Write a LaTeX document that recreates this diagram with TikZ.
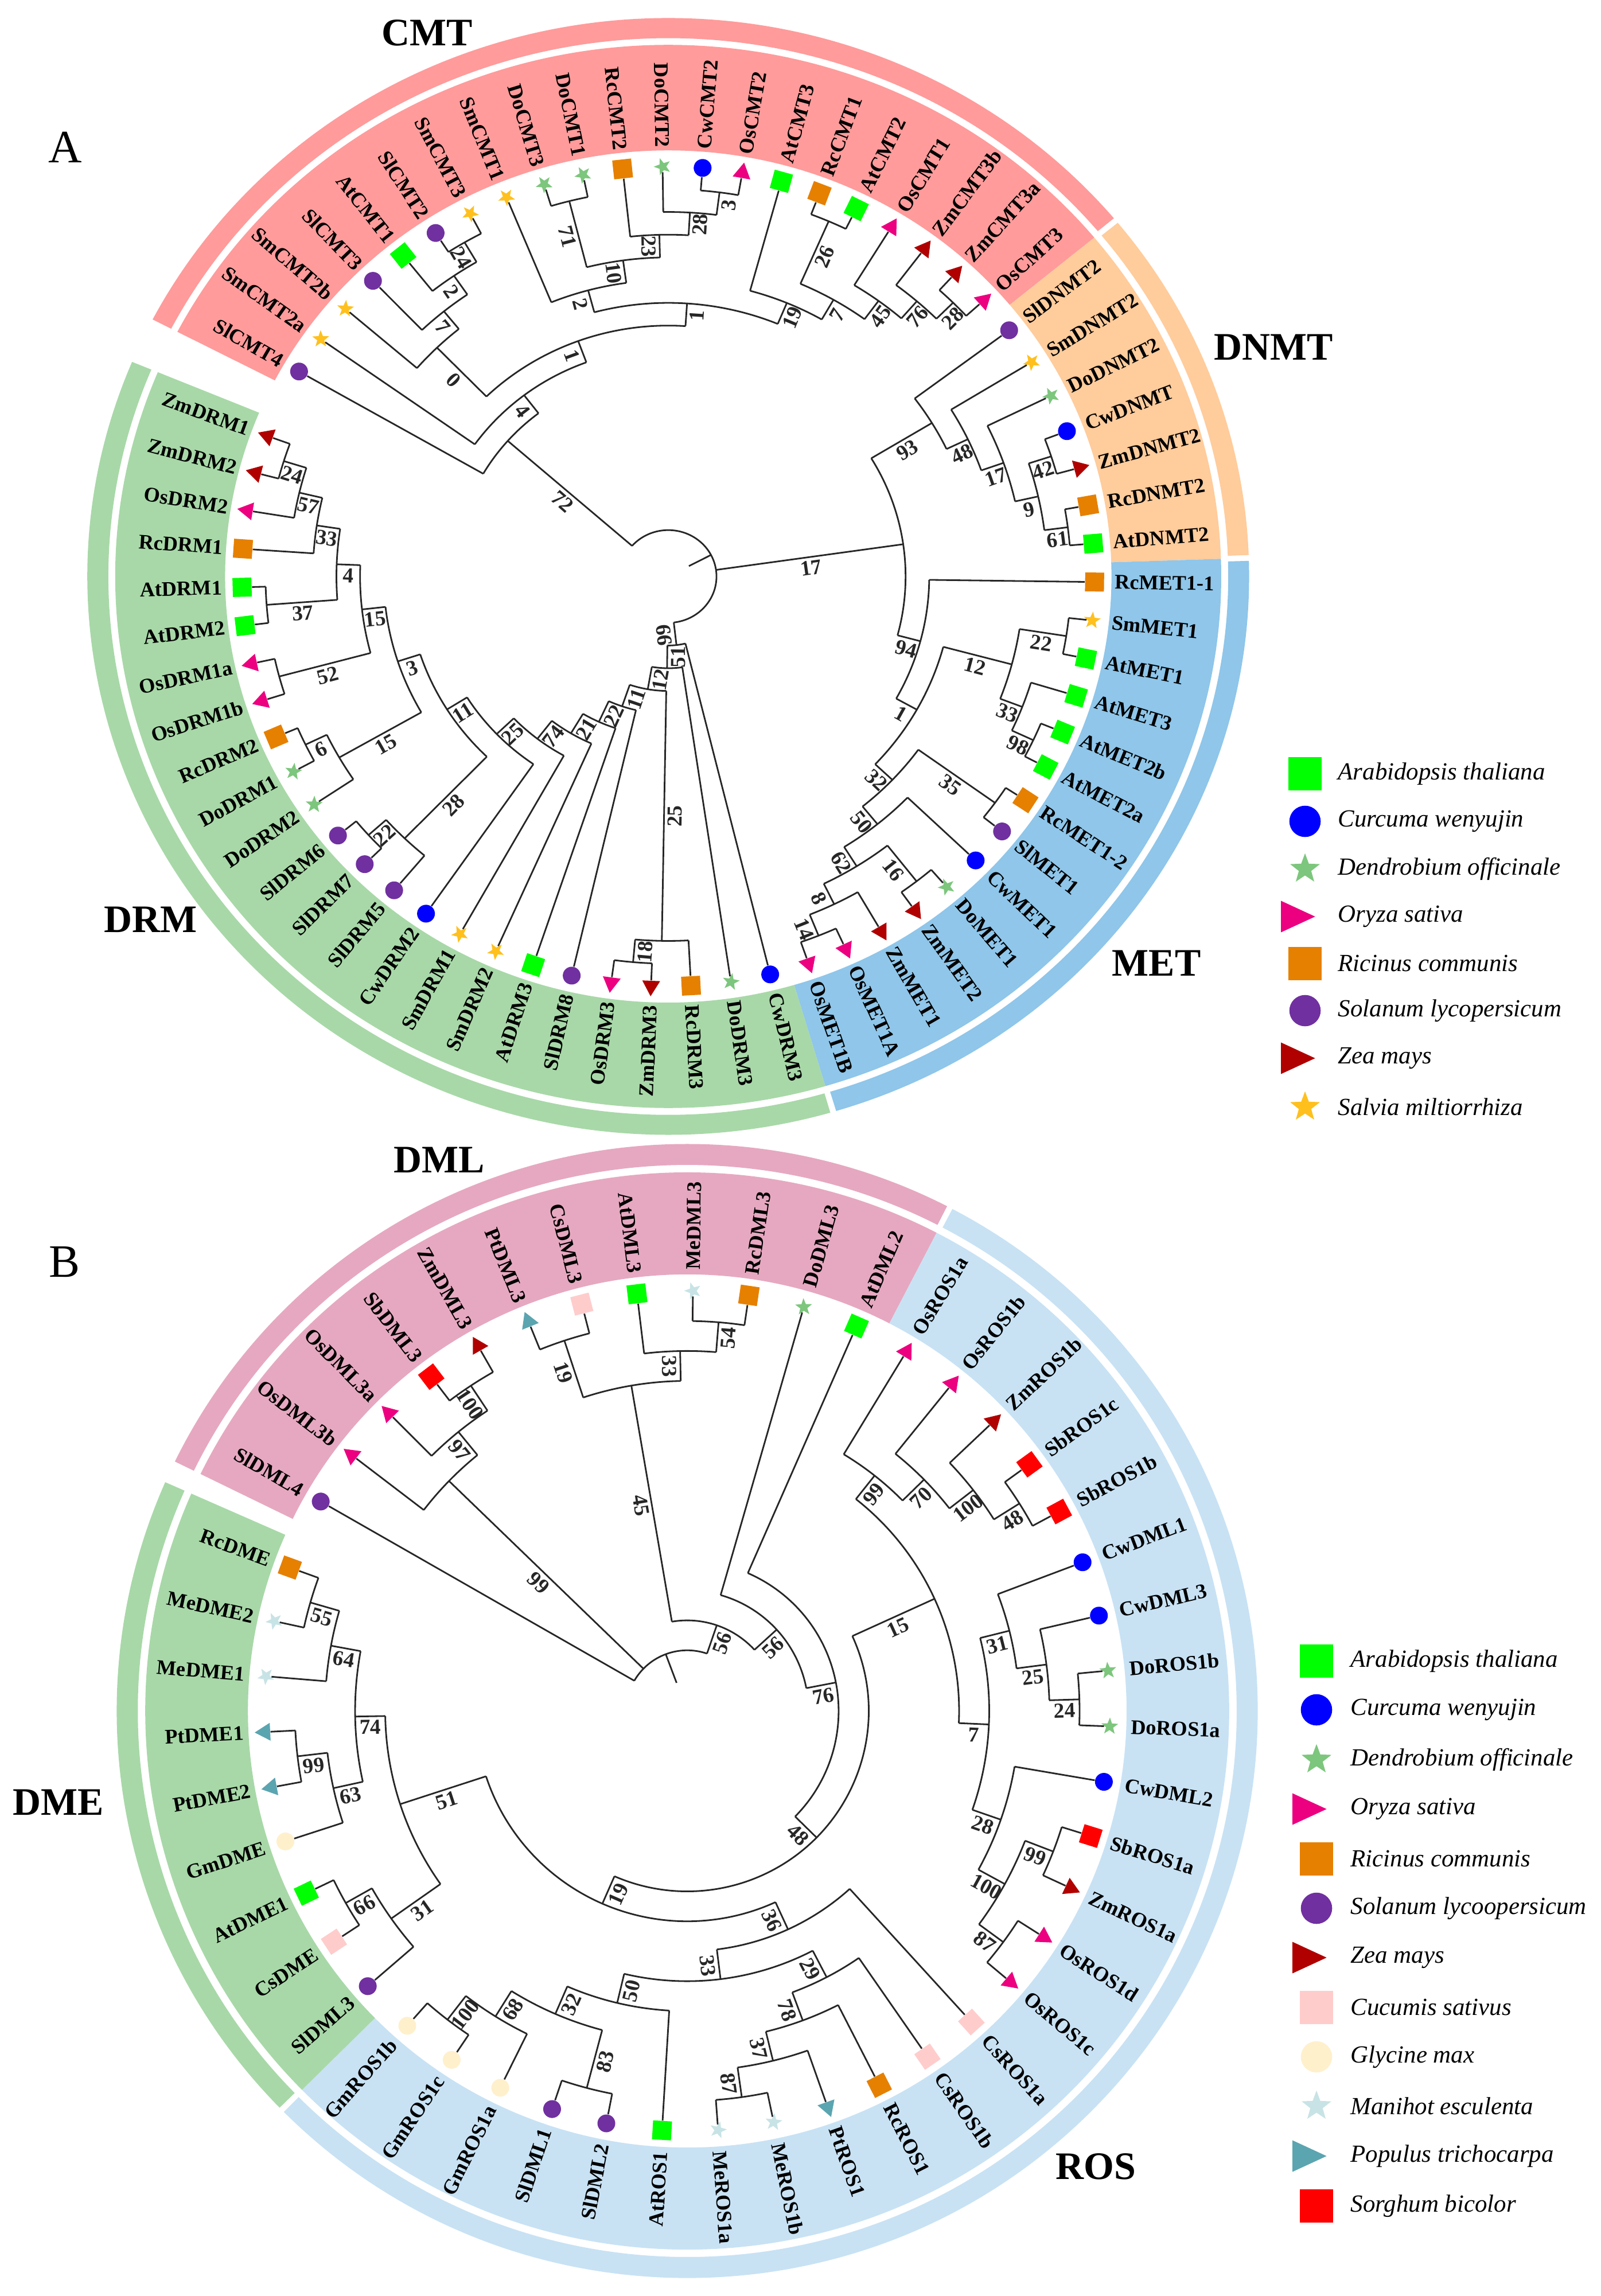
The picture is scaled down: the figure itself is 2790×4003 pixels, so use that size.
\documentclass[tikz,border=0pt]{standalone}
\usepackage{fontspec}
\setmainfont{Liberation Serif}
\usetikzlibrary{shapes.geometric}
\definecolor{cmtcol}{HTML}{FF9B9B}
\definecolor{dnmtcol}{HTML}{FFCC9C}
\definecolor{metcol}{HTML}{8FC6EA}
\definecolor{drmcol}{HTML}{A8D8A8}
\definecolor{dmlcol}{HTML}{E6A8C0}
\definecolor{roscol}{HTML}{C8E2F4}
\definecolor{cAt}{HTML}{00FF00}
\definecolor{cCw}{HTML}{0000FF}
\definecolor{cDo}{HTML}{7DC67D}
\definecolor{cOs}{HTML}{EC007F}
\definecolor{cRc}{HTML}{E68000}
\definecolor{cSl}{HTML}{7030A0}
\definecolor{cZm}{HTML}{B00000}
\definecolor{cSm}{HTML}{FFC01E}
\definecolor{cCs}{HTML}{FFCCCC}
\definecolor{cGm}{HTML}{FFF0CC}
\definecolor{cMe}{HTML}{C8E3E5}
\definecolor{cPt}{HTML}{5BA5B0}
\definecolor{cSb}{HTML}{FF0000}
\tikzset{
  branch/.style={line width=.8pt,black!85},
  bootlab/.style={anchor=north,inner sep=1.5pt,font=\fontsize{10.6}{12}\selectfont\bfseries},
  genelab/.style={inner sep=0pt,font=\fontsize{10.3}{12}\selectfont\bfseries},
  grouplab/.style={inner sep=0pt,font=\fontsize{19.3}{22}\selectfont\bfseries},
  panellab/.style={inner sep=0pt,font=\fontsize{23}{26}\selectfont},
  legtext/.style={anchor=west,inner sep=0pt,font=\fontsize{12.2}{14}\selectfont\itshape},
  mksq/.style={rectangle,minimum size=.33cm,inner sep=0pt,fill=#1},
  mkdot/.style={circle,minimum size=.31cm,inner sep=0pt,fill=#1},
  mkstar/.style={star,star points=5,star point ratio=2.4,minimum size=.31cm,inner sep=0pt,fill=#1},
  mktri/.style={regular polygon,regular polygon sides=3,shape border rotate=-90,minimum size=.36cm,inner sep=0pt,fill=#1},
  lgtri/.style={xscale=1.25,xshift=-.1cm},
  mkAt/.style={mksq=cAt}, mkCw/.style={mkdot=cCw}, mkDo/.style={mkstar=cDo},
  mkOs/.style={mktri=cOs}, mkRc/.style={mksq=cRc}, mkSl/.style={mkdot=cSl},
  mkZm/.style={mktri=cZm}, mkSm/.style={mkstar=cSm}, mkCs/.style={mksq=cCs},
  mkGm/.style={mkdot=cGm}, mkMe/.style={mkstar=cMe}, mkPt/.style={mktri=cPt},
  mkSb/.style={mksq=cSb}
}
% ring piece: colour, from, to, inner, outer
\newcommand{\band}[5]{\fill[#1] (#2:#4) arc[start angle=#2,end angle=#3,radius=#4]
  -- (#3:#5) arc[start angle=#3,end angle=#2,radius=#5] -- cycle;}
% tip: name, species, angle, marker radius, text radius
\newcommand{\leaf}[5]{%
  \pgfmathsetmacro\lang{#3}%
  \pgfmathsetmacro\lrot{cos(\lang)>=0 ? \lang : \lang+180}%
  \pgfmathparse{cos(\lang)>=0 ? "west" : "east"}\edef\lanch{\pgfmathresult}%
  \expandafter\xdef\csname ang@#1\endcsname{\lang}%
  \node[mk#2,rotate=\lang] (#1) at (\lang:#4) {};
  \node[genelab,rotate=\lrot,anchor=\lanch] (#1-t) at (\lang:#5) {#1};
}
% stem of a child up to the arc of its parent
\newcommand{\stemto}[2]{%
  \edef\sang{\csname ang@#1\endcsname}%
  \pgfmathsetmacro\srot{cos(\sang)>=0 ? \sang : \sang+180}%
  \ifcsname lab@#1\endcsname
    \draw[branch] (#1) -- node[bootlab,rotate=\srot] (l#1) {\csname lab@#1\endcsname} (\sang:#2);
  \else
    \draw[branch] (#1) -- (\sang:#2);
  \fi
}
% inner node: name, first child, second child, level, bootstrap
\newcommand{\clade}[5]{%
  \pgfmathsetmacro\crad{\rzero+\rstep*#4}%
  \edef\cfirst{\csname ang@#2\endcsname}%
  \edef\csecond{\csname ang@#3\endcsname}%
  \pgfmathsetmacro\cmid{(\cfirst+\csecond)/2}%
  \expandafter\xdef\csname ang@#1\endcsname{\cmid}%
  \expandafter\gdef\csname lab@#1\endcsname{#5}%
  \coordinate (#1) at (\cmid:\crad);
  \stemto{#2}{\crad}
  \stemto{#3}{\crad}
  \draw[branch] (\cfirst:\crad) arc[start angle=\cfirst,end angle=\csecond,radius=\crad];
}
\begin{document}
\begin{tikzpicture}[x=.01cm,y=-.01cm]
\useasboundingbox (0,0) rectangle (2790,4003);
% tree A
\begin{scope}[shift={(1165,1005)},x=10.12cm,y=9.73cm]
  \def\rzero{.083}\def\rstep{.0407}
  \band{cmtcol}{152.6}{39.6}{.763}{.952}
  \band{dnmtcol}{39.6}{1.9}{.763}{.952}
  \band{metcol}{1.9}{-73.5}{.763}{.952}
  \band{drmcol}{-73.5}{-202.6}{.763}{.952}
  \band{cmtcol}{152.6}{39.9}{.964}{1}
  \band{dnmtcol}{39.3}{2.2}{.964}{1}
  \band{metcol}{1.6}{-73.2}{.964}{1}
  \band{drmcol}{-73.8}{-202.6}{.964}{1}
  \foreach \g/\s [count=\k from 0] in {SlCMT4/Sl,SmCMT2a/Sm,SmCMT2b/Sm,SlCMT3/Sl,AtCMT1/At,SlCMT2/Sl,SmCMT3/Sm,
    SmCMT1/Sm,DoCMT3/Do,DoCMT1/Do,RcCMT2/Rc,DoCMT2/Do,CwCMT2/Cw,OsCMT2/Os,AtCMT3/At,RcCMT1/Rc,AtCMT2/At,
    OsCMT1/Os,ZmCMT3b/Zm,ZmCMT3a/Zm,OsCMT3/Os,SlDNMT2/Sl,SmDNMT2/Sm,DoDNMT2/Do,CwDNMT/Cw,ZmDNMT2/Zm,RcDNMT2/Rc,
    AtDNMT2/At,RcMET1-1/Rc,SmMET1/Sm,AtMET1/At,AtMET3/At,AtMET2b/At,AtMET2a/At,RcMET1-2/Rc,SlMET1/Sl,CwMET1/Cw,
    DoMET1/Do,ZmMET2/Zm,ZmMET1/Zm,OsMET1A/Os,OsMET1B/Os,CwDRM3/Cw,DoDRM3/Do,RcDRM3/Rc,ZmDRM3/Zm,OsDRM3/Os,
    SlDRM8/Sl,AtDRM3/At,SmDRM2/Sm,SmDRM1/Sm,CwDRM2/Cw,SlDRM5/Sl,SlDRM7/Sl,SlDRM6/Sl,DoDRM2/Do,DoDRM1/Do,
    RcDRM2/Rc,OsDRM1b/Os,OsDRM1a/Os,AtDRM2/At,AtDRM1/At,RcDRM1/Rc,OsDRM2/Os,ZmDRM2/Zm,ZmDRM1/Zm}
    {\leaf{\g}{\s}{150-5.385*\k}{.734}{.768}}
  % CMT
  \clade{a24a}{SlCMT2}{SmCMT3}{15}{24}
  \clade{a2a}{AtCMT1}{a24a}{14}{2}
  \clade{a7a}{SlCMT3}{a2a}{13}{7}
  \clade{a0}{SmCMT2b}{a7a}{12}{0}
  \clade{a71}{DoCMT3}{DoCMT1}{15}{71}
  \clade{a3a}{CwCMT2}{OsCMT2}{15}{3}
  \clade{a28a}{DoCMT2}{a3a}{14}{28}
  \clade{a23}{RcCMT2}{a28a}{13}{23}
  \clade{a10}{a71}{a23}{12}{10}
  \clade{a2b}{SmCMT1}{a10}{11}{2}
  \clade{a26}{RcCMT1}{AtCMT2}{15}{26}
  \clade{a28b}{ZmCMT3a}{OsCMT3}{15}{28}
  \clade{a76}{ZmCMT3b}{a28b}{14}{76}
  \clade{a45}{OsCMT1}{a76}{13}{45}
  \clade{a7b}{a26}{a45}{12}{7}
  \clade{a19}{AtCMT3}{a7b}{11}{19}
  \clade{a1a}{a2b}{a19}{10}{1}
  \clade{a1b}{a0}{a1a}{9}{1}
  \clade{a4a}{SmCMT2a}{a1b}{8}{4}
  \clade{a72}{SlCMT4}{a4a}{7}{72}
  % DNMT
  \clade{a42}{CwDNMT}{ZmDNMT2}{15}{42}
  \clade{a61}{RcDNMT2}{AtDNMT2}{15}{61}
  \clade{a9}{a42}{a61}{14}{9}
  \clade{a17a}{DoDNMT2}{a9}{13}{17}
  \clade{a48}{SmDNMT2}{a17a}{12}{48}
  \clade{a93}{SlDNMT2}{a48}{11}{93}
  % MET
  \clade{a22a}{SmMET1}{AtMET1}{15}{22}
  \clade{a98}{AtMET2b}{AtMET2a}{15}{98}
  \clade{a33a}{AtMET3}{a98}{14}{33}
  \clade{a12a}{a22a}{a33a}{13}{12}
  \clade{a35}{RcMET1-2}{SlMET1}{15}{35}
  \clade{a16}{DoMET1}{ZmMET2}{15}{16}
  \clade{a14}{OsMET1A}{OsMET1B}{15}{14}
  \clade{a8}{ZmMET1}{a14}{14}{8}
  \clade{a62}{a16}{a8}{13}{62}
  \clade{a50}{CwMET1}{a62}{12}{50}
  \clade{a32}{a35}{a50}{11}{32}
  \clade{a1c}{a12a}{a32}{10}{1}
  \clade{a94}{RcMET1-1}{a1c}{9}{94}
  \clade{a17b}{a93}{a94}{8}{17}
  % DRM
  \clade{a18}{ZmDRM3}{OsDRM3}{15}{18}
  \clade{a25a}{RcDRM3}{a18}{14}{25}
  \clade{a22b}{SlDRM7}{SlDRM6}{15}{22}
  \clade{a28c}{SlDRM5}{a22b}{14}{28}
  \clade{a6}{DoDRM1}{RcDRM2}{15}{6}
  \clade{a15a}{DoDRM2}{a6}{14}{15}
  \clade{a52}{OsDRM1b}{OsDRM1a}{15}{52}
  \clade{a37}{AtDRM2}{AtDRM1}{15}{37}
  \clade{a24b}{ZmDRM2}{ZmDRM1}{15}{24}
  \clade{a57}{OsDRM2}{a24b}{14}{57}
  \clade{a33b}{RcDRM1}{a57}{13}{33}
  \clade{a4b}{a37}{a33b}{12}{4}
  \clade{a15b}{a52}{a4b}{11}{15}
  \clade{a3b}{a15a}{a15b}{10}{3}
  \clade{a11a}{a28c}{a3b}{9}{11}
  \clade{a25b}{CwDRM2}{a11a}{8}{25}
  \clade{a74}{SmDRM1}{a25b}{7}{74}
  \clade{a21}{SmDRM2}{a74}{6}{21}
  \clade{a22c}{AtDRM3}{a21}{5}{22}
  \clade{a11b}{SlDRM8}{a22c}{4}{11}
  \clade{a12b}{a25a}{a11b}{3}{12}
  \clade{a51}{DoDRM3}{a12b}{2}{51}
  \clade{a66}{CwDRM3}{a51}{1}{66}
  % root
  \clade{aroot}{a72}{a66}{0}{}
  \stemto{a17b}{\crad}
  \coordinate (arootend) at (\cmid:.04);
  \draw[branch] (aroot) -- (arootend);
\end{scope}
% tree B
\begin{scope}[shift={(1198,2983)},x=9.94cm,y=9.88cm]
  \def\rzero{.107}\def\rstep{.0528}
  \band{dmlcol}{153.9}{62.6}{.77}{.95}
  \band{roscol}{62.6}{-135.3}{.77}{.95}
  \band{drmcol}{-135.3}{-203.8}{.77}{.95}
  \band{dmlcol}{153.9}{62.9}{.963}{1}
  \band{roscol}{62.3}{-135}{.963}{1}
  \band{drmcol}{-135.6}{-203.8}{.963}{1}
  \foreach \g/\s [count=\k from 0] in {SlDML4/Sl,OsDML3b/Os,OsDML3a/Os,SbDML3/Sb,ZmDML3/Zm,PtDML3/Pt,CsDML3/Cs,
    AtDML3/At,MeDML3/Me,RcDML3/Rc,DoDML3/Do,AtDML2/At,OsROS1a/Os,OsROS1b/Os,ZmROS1b/Zm,SbROS1c/Sb,SbROS1b/Sb,
    CwDML1/Cw,CwDML3/Cw,DoROS1b/Do,DoROS1a/Do,CwDML2/Cw,SbROS1a/Sb,ZmROS1a/Zm,OsROS1d/Os,OsROS1c/Os,CsROS1a/Cs,
    CsROS1b/Cs,RcROS1/Rc,PtROS1/Pt,MeROS1b/Me,MeROS1a/Me,AtROS1/At,SlDML2/Sl,SlDML1/Sl,GmROS1a/Gm,GmROS1c/Gm,
    GmROS1b/Gm,SlDML3/Sl,CsDME/Cs,AtDME1/At,GmDME/Gm,PtDME2/Pt,PtDME1/Pt,MeDME1/Me,MeDME2/Me,RcDME/Rc}
    {\leaf{\g}{\s}{150.1-7.61*\k}{.741}{.778}}
  % DML
  \clade{b100a}{SbDML3}{ZmDML3}{11}{100}
  \clade{b97}{OsDML3a}{b100a}{10}{97}
  \clade{b99a}{OsDML3b}{b97}{9}{99}
  \clade{b19a}{PtDML3}{CsDML3}{11}{19}
  \clade{b54}{MeDML3}{RcDML3}{11}{54}
  \clade{b33a}{AtDML3}{b54}{10}{33}
  \clade{b45}{b19a}{b33a}{9}{45}
  % ROS
  \clade{b48a}{SbROS1c}{SbROS1b}{11}{48}
  \clade{b100b}{ZmROS1b}{b48a}{10}{100}
  \clade{b70}{OsROS1b}{b100b}{9}{70}
  \clade{b99b}{OsROS1a}{b70}{8}{99}
  \clade{b24}{DoROS1b}{DoROS1a}{11}{24}
  \clade{b25}{CwDML3}{b24}{10}{25}
  \clade{b31a}{CwDML1}{b25}{9}{31}
  \clade{b99c}{SbROS1a}{ZmROS1a}{11}{99}
  \clade{b87a}{OsROS1d}{OsROS1c}{11}{87}
  \clade{b100c}{b99c}{b87a}{10}{100}
  \clade{b28}{CwDML2}{b100c}{9}{28}
  \clade{b7}{b31a}{b28}{8}{7}
  \clade{b15}{b99b}{b7}{7}{15}
  \clade{b87b}{MeROS1b}{MeROS1a}{11}{87}
  \clade{b37}{PtROS1}{b87b}{10}{37}
  \clade{b78}{RcROS1}{b37}{9}{78}
  \clade{b29}{CsROS1b}{b78}{8}{29}
  \clade{b83}{SlDML2}{SlDML1}{11}{83}
  \clade{b100d}{GmROS1c}{GmROS1b}{11}{100}
  \clade{b68}{GmROS1a}{b100d}{10}{68}
  \clade{b32}{b83}{b68}{9}{32}
  \clade{b50}{AtROS1}{b32}{8}{50}
  \clade{b33b}{b29}{b50}{7}{33}
  \clade{b36}{CsROS1a}{b33b}{6}{36}
  % DME
  \clade{b55}{MeDME2}{RcDME}{11}{55}
  \clade{b64}{MeDME1}{b55}{10}{64}
  \clade{b99d}{PtDME2}{PtDME1}{11}{99}
  \clade{b63}{GmDME}{b99d}{10}{63}
  \clade{b74}{b63}{b64}{9}{74}
  \clade{b66}{CsDME}{AtDME1}{11}{66}
  \clade{b31b}{SlDML3}{b66}{10}{31}
  \clade{b51}{b31b}{b74}{8}{51}
  \clade{b19b}{b36}{b51}{5}{19}
  \clade{b48b}{b15}{b19b}{4}{48}
  \clade{b76}{AtDML2}{b48b}{3}{76}
  \clade{b56a}{DoDML3}{b76}{2}{56}
  \clade{b56b}{b45}{b56a}{1}{56}
  % root
  \clade{broot}{SlDML4}{b56b}{0}{}
  \stemto{b99a}{\crad}
  \coordinate (brootend) at (\cmid:.053);
  \draw[branch] (broot) -- (brootend);
\end{scope}
% panel and group names
\node[panellab] (panelA) at (114,257) {A};
\node[panellab] (panelB) at (112,2200) {B};
\node[grouplab] (gCMT) at (745,57) {CMT};
\node[grouplab] (gDNMT) at (2220,605) {DNMT};
\node[grouplab] (gMET) at (2016,1679) {MET};
\node[grouplab] (gDRM) at (263,1603) {DRM};
\node[grouplab] (gDML) at (766,2022) {DML};
\node[grouplab] (gDME) at (102,3142) {DME};
\node[grouplab] (gROS) at (1910,3777) {ROS};
% legends
\foreach \y/\s/\nm/\opt [count=\i] in {1349/At/Arabidopsis thaliana/,1432/Cw/Curcuma wenyujin/,1515/Do/Dendrobium officinale/,
  1598/Os/Oryza sativa/lgtri,1680/Rc/Ricinus communis/,1762/Sl/Solanum lycopersicum/,1845/Zm/Zea mays/lgtri,1930/Sm/Salvia miltiorrhiza/}{
  \node[mk\s,scale=1.76,\opt] (lgA\i) at (2275,\y) {};
  \node[legtext] (lgAt\i) at (2332,\y) {\nm};
}
\foreach \y/\s/\nm/\opt [count=\i] in {2896/At/Arabidopsis thaliana/,2981/Cw/Curcuma wenyujin/,3068/Do/Dendrobium officinale/,
  3154/Os/Oryza sativa/lgtri,3241/Rc/Ricinus communis/,3327/Sl/Solanum lycoopersicum/,3413/Zm/Zea mays/lgtri,3500/Cs/Cucumis sativus/,
  3586/Gm/Glycine max/,3672/Me/Manihot esculenta/,3759/Pt/Populus trichocarpa/lgtri,3846/Sb/Sorghum bicolor/}{
  \node[mk\s,scale=1.76,\opt] (lgB\i) at (2295,\y) {};
  \node[legtext] (lgBt\i) at (2354,\y) {\nm};
}
\end{tikzpicture}
\end{document}
